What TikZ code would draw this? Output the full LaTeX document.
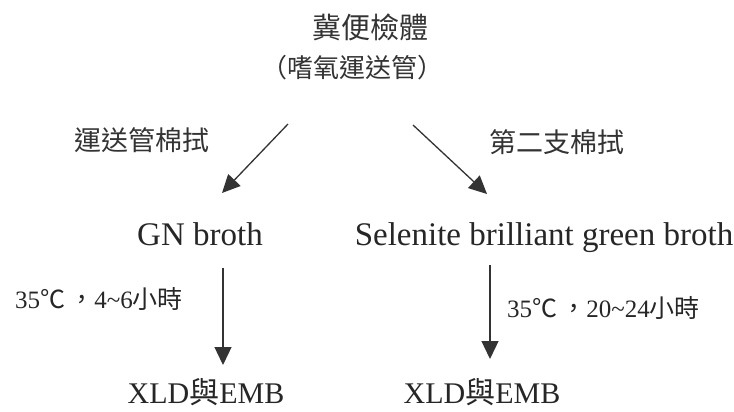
\documentclass[tikz,border=0pt]{standalone}
\usepackage{fontspec}
\setmainfont{Liberation Serif}
\newfontfamily\cjk{Noto Sans CJK TC}
\usetikzlibrary{arrows.meta}
\tikzset{
  lat/.style={font=\fontsize{33}{35}\selectfont, inner sep=0pt, text=black!85},
  cj/.style={font=\fontsize{27}{30}\selectfont\cjk, inner sep=0pt, text=black!80},
  tmp/.style={font=\fontsize{25}{30}\selectfont, inner sep=0pt, text=black!85},
  btm/.style={font=\fontsize{30}{32}\selectfont, inner sep=0pt, text=black!85},
  arr/.style={draw=black!80, line width=1.3pt, -{Triangle[length=18pt,width=17pt]}}
}
\begin{document}
\begin{tikzpicture}[x=1pt,y=-1pt]
\useasboundingbox (0,0) rectangle (734,412);
\node[cj, font=\fontsize{29}{31}\selectfont\cjk] (spec) at (370,27) {冀便檢體};
\node[cj, font=\fontsize{26}{30}\selectfont\cjk] (tube) at (352,68) {（嗜氧運送管）};
\node[cj] (lswab) at (142,140) {運送管棉拭};
\node[cj] (rswab) at (557,142) {第二支棉拭};
\node[lat, anchor=base] (gn) at (200,245) {GN broth};
\node[lat, anchor=base] (sel) at (544,245) {Selenite brilliant green broth};
\node[tmp, anchor=base west] (lt) at (15,308) {35{\cjk ℃}\,{\cjk ，}4\textasciitilde6{\cjk 小時}};
\node[tmp, anchor=base west] (rt) at (507,317) {35{\cjk ℃}\,{\cjk ，}20\textasciitilde24{\cjk 小時}};
\node[btm, anchor=base] (lx) at (206,403) {XLD{\cjk 與}EMB};
\node[btm, anchor=base] (rx) at (482,403) {XLD{\cjk 與}EMB};
\coordinate (a1) at (288,124); \coordinate (a2) at (222,193);
\coordinate (b1) at (413,125); \coordinate (b2) at (487,194);
\coordinate (c1) at (223,268); \coordinate (c2) at (223,365);
\coordinate (d1) at (490,265); \coordinate (d2) at (490,359);
\draw[arr] (a1) -- (a2);
\draw[arr] (b1) -- (b2);
\draw[arr] (c1) -- (c2);
\draw[arr] (d1) -- (d2);
\end{tikzpicture}
\end{document}
